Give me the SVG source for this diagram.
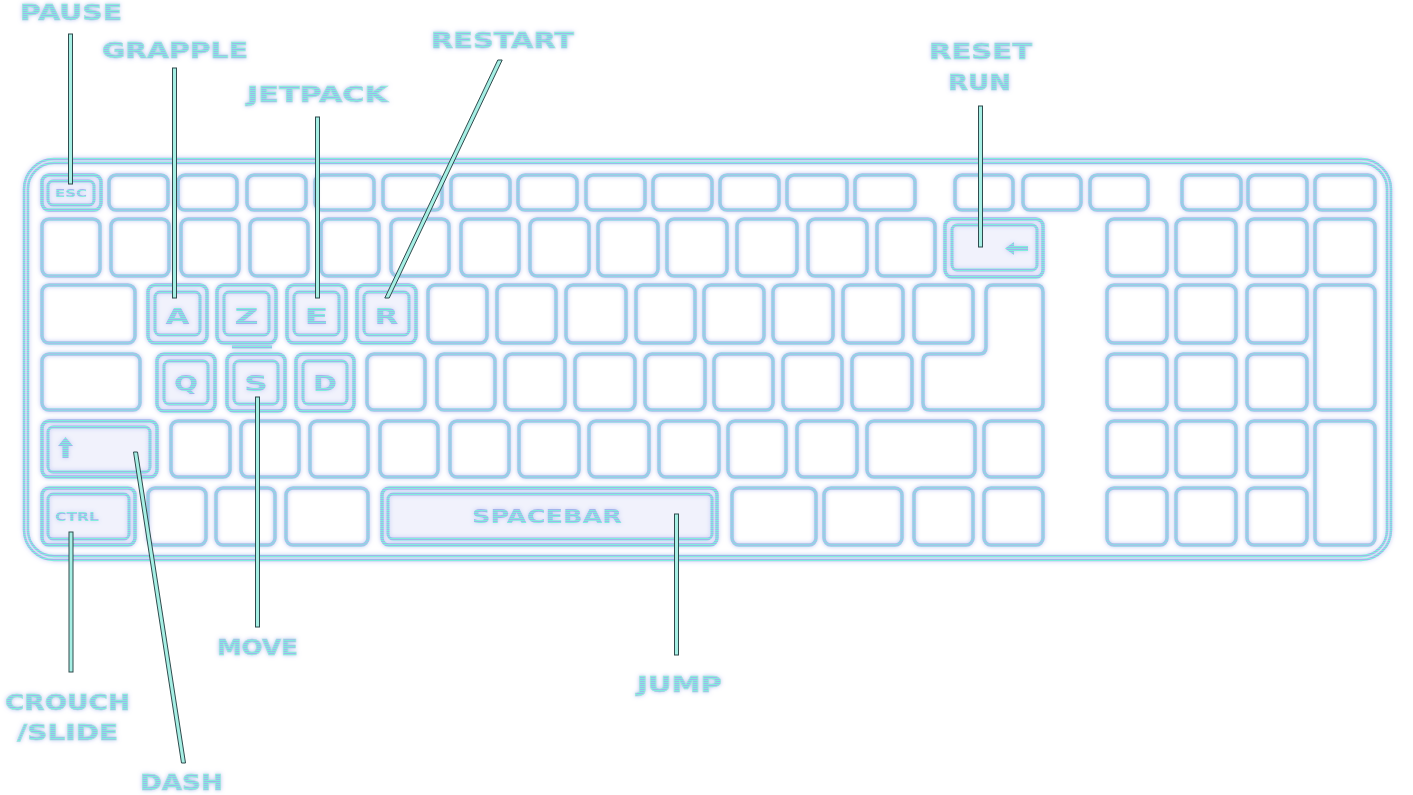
<svg xmlns="http://www.w3.org/2000/svg" width="1413" height="795" viewBox="0 0 1413 795">
<defs>
<pattern id="scanK" width="4" height="2" patternUnits="userSpaceOnUse"><rect width="4" height="1" fill="#8fd6e4"/><rect y="1" width="4" height="1" fill="#a9bfe9"/></pattern>
<pattern id="scanA" width="4" height="2" patternUnits="userSpaceOnUse"><rect width="4" height="1" fill="#80eedc"/><rect y="1" width="4" height="1" fill="#a3b3ec"/></pattern>
<filter id="glow" filterUnits="userSpaceOnUse" x="0" y="0" width="1413" height="795">
<feGaussianBlur in="SourceAlpha" stdDeviation="2.2" result="b"/>
<feFlood flood-color="#a9b2ee" flood-opacity="0.75"/>
<feComposite in2="b" operator="in" result="g"/>
<feGaussianBlur in="SourceGraphic" stdDeviation="0.6" result="s"/>
<feMerge><feMergeNode in="g"/><feMergeNode in="s"/></feMerge>
</filter>
</defs>
<style>
.k{fill:none;stroke:url(#scanK);stroke-width:3.5}
.a{fill:#dfe3fa;fill-opacity:.18;stroke:url(#scanA);stroke-width:3.5}
.ai{fill:none;stroke:url(#scanA);stroke-width:3}
.body{fill:none;stroke:url(#scanA);stroke-width:2.5}
.lbl{font-family:"DejaVu Sans","Liberation Sans",sans-serif;font-weight:bold;font-size:22px;fill:url(#scanA);stroke:#9fe6dc;stroke-width:0.6}
.kl{font-family:"DejaVu Sans","Liberation Sans",sans-serif;font-weight:bold;font-size:22px;fill:url(#scanA);text-anchor:middle}
.sm{font-family:"DejaVu Sans","Liberation Sans",sans-serif;font-weight:bold;fill:url(#scanA)}
.ic{fill:url(#scanA)}
.conn{fill:#a6efe4;stroke:#2f4b4d;stroke-width:1}
</style>
<rect width="1413" height="795" fill="#ffffff"/>
<g filter="url(#glow)">
<g id="keyboard-body">
<rect class="body" x="24" y="159" width="1367" height="401" rx="30"/>
<rect class="body" x="28" y="163" width="1359" height="393" rx="26" stroke-width="1.5"/>
</g>
<g id="row0">
<g id="k-esc"><rect class="a" x="42" y="175" width="59" height="35" rx="7"/><rect class="ai" x="48" y="181" width="46" height="24" rx="5"/><text class="sm" x="55" y="197" font-size="11" textLength="32" lengthAdjust="spacingAndGlyphs">ESC</text></g>
<g id="k-f1"><rect class="k" x="109" y="175" width="59" height="35" rx="7"/></g>
<g id="k-f2"><rect class="k" x="178" y="175" width="59" height="35" rx="7"/></g>
<g id="k-f3"><rect class="k" x="247" y="175" width="59" height="35" rx="7"/></g>
<g id="k-f4"><rect class="k" x="315" y="175" width="59" height="35" rx="7"/></g>
<g id="k-f5"><rect class="k" x="383" y="175" width="59" height="35" rx="7"/></g>
<g id="k-f6"><rect class="k" x="451" y="175" width="59" height="35" rx="7"/></g>
<g id="k-f7"><rect class="k" x="518" y="175" width="59" height="35" rx="7"/></g>
<g id="k-f8"><rect class="k" x="586" y="175" width="59" height="35" rx="7"/></g>
<g id="k-f9"><rect class="k" x="653" y="175" width="59" height="35" rx="7"/></g>
<g id="k-f10"><rect class="k" x="720" y="175" width="59" height="35" rx="7"/></g>
<g id="k-f11"><rect class="k" x="787" y="175" width="60" height="35" rx="7"/></g>
<g id="k-f12"><rect class="k" x="855" y="175" width="60" height="35" rx="7"/></g>
<g id="k-prt"><rect class="k" x="955" y="175" width="58" height="35" rx="7"/></g>
<g id="k-scr"><rect class="k" x="1023" y="175" width="58" height="35" rx="7"/></g>
<g id="k-pau"><rect class="k" x="1090" y="175" width="58" height="35" rx="7"/></g>
<g id="k-t1"><rect class="k" x="1182" y="175" width="59" height="35" rx="7"/></g>
<g id="k-t2"><rect class="k" x="1248" y="175" width="59" height="35" rx="7"/></g>
<g id="k-t3"><rect class="k" x="1315" y="175" width="60" height="35" rx="7"/></g>
</g>
<g id="row1">
<g id="k-1-0"><rect class="k" x="42" y="219" width="58" height="57" rx="7"/></g>
<g id="k-1-1"><rect class="k" x="111" y="219" width="58" height="57" rx="7"/></g>
<g id="k-1-2"><rect class="k" x="181" y="219" width="58" height="57" rx="7"/></g>
<g id="k-1-3"><rect class="k" x="250" y="219" width="58" height="57" rx="7"/></g>
<g id="k-1-4"><rect class="k" x="321" y="219" width="58" height="57" rx="7"/></g>
<g id="k-1-5"><rect class="k" x="391" y="219" width="58" height="57" rx="7"/></g>
<g id="k-1-6"><rect class="k" x="461" y="219" width="58" height="57" rx="7"/></g>
<g id="k-1-7"><rect class="k" x="530" y="219" width="59" height="57" rx="7"/></g>
<g id="k-1-8"><rect class="k" x="598" y="219" width="60" height="57" rx="7"/></g>
<g id="k-1-9"><rect class="k" x="667" y="219" width="60" height="57" rx="7"/></g>
<g id="k-1-10"><rect class="k" x="737" y="219" width="60" height="57" rx="7"/></g>
<g id="k-1-11"><rect class="k" x="808" y="219" width="59" height="57" rx="7"/></g>
<g id="k-1-12"><rect class="k" x="877" y="219" width="58" height="57" rx="7"/></g>
<g id="k-backspace"><rect class="a" x="945" y="219" width="98" height="58" rx="7"/><rect class="ai" x="952" y="225" width="85" height="45" rx="5"/><path class="ic" d="M1005,248.5 L1014,242 L1014,246 L1028,246 L1028,251 L1014,251 L1014,255 Z"/></g>
<g id="k-n1-0"><rect class="k" x="1107" y="219" width="60" height="57" rx="7"/></g>
<g id="k-n1-1"><rect class="k" x="1176" y="219" width="60" height="57" rx="7"/></g>
<g id="k-n1-2"><rect class="k" x="1247" y="219" width="60" height="57" rx="7"/></g>
<g id="k-n1-3"><rect class="k" x="1315" y="219" width="60" height="57" rx="7"/></g>
</g>
<g id="row2">
<g id="k-tab"><rect class="k" x="42" y="285" width="93" height="58" rx="7"/></g>
<g id="k-a"><rect class="a" x="148" y="285" width="59" height="58" rx="7"/><rect class="ai" x="155" y="292" width="45" height="43" rx="5"/><text class="kl" x="177.5" y="324" textLength="24" lengthAdjust="spacingAndGlyphs">A</text></g>
<g id="k-z"><rect class="a" x="217" y="285" width="59" height="58" rx="7"/><rect class="ai" x="224" y="292" width="45" height="43" rx="5"/><text class="kl" x="246.5" y="324" textLength="24" lengthAdjust="spacingAndGlyphs">Z</text></g>
<g id="k-e"><rect class="a" x="287" y="285" width="59" height="58" rx="7"/><rect class="ai" x="294" y="292" width="45" height="43" rx="5"/><text class="kl" x="316.5" y="324" textLength="24" lengthAdjust="spacingAndGlyphs">E</text></g>
<g id="k-r"><rect class="a" x="357" y="285" width="59" height="58" rx="7"/><rect class="ai" x="364" y="292" width="45" height="43" rx="5"/><text class="kl" x="386.5" y="324" textLength="24" lengthAdjust="spacingAndGlyphs">R</text></g>
<g id="k-2-5"><rect class="k" x="428" y="285" width="59" height="58" rx="7"/></g>
<g id="k-2-6"><rect class="k" x="497" y="285" width="59" height="58" rx="7"/></g>
<g id="k-2-7"><rect class="k" x="566" y="285" width="60" height="58" rx="7"/></g>
<g id="k-2-8"><rect class="k" x="636" y="285" width="59" height="58" rx="7"/></g>
<g id="k-2-9"><rect class="k" x="704" y="285" width="60" height="58" rx="7"/></g>
<g id="k-2-10"><rect class="k" x="773" y="285" width="60" height="58" rx="7"/></g>
<g id="k-2-11"><rect class="k" x="843" y="285" width="60" height="58" rx="7"/></g>
<g id="k-2-12"><rect class="k" x="914" y="285" width="59" height="58" rx="7"/></g>
<g id="k-enter"><path class="k" d="M993,285 H1036 Q1043,285 1043,292 V403 Q1043,410 1036,410 H930 Q923,410 923,403 V361 Q923,354 930,354 H979 Q986,354 986,347 V292 Q986,285 993,285 Z"/></g>
<g id="k-n2-0"><rect class="k" x="1107" y="285" width="60" height="58" rx="7"/></g>
<g id="k-n2-1"><rect class="k" x="1176" y="285" width="60" height="58" rx="7"/></g>
<g id="k-n2-2"><rect class="k" x="1247" y="285" width="60" height="58" rx="7"/></g>
<g id="k-nplus"><rect class="k" x="1315" y="285" width="60" height="125" rx="7"/></g>
</g>
<g id="row3">
<g id="k-caps"><rect class="k" x="42" y="354" width="98" height="56" rx="7"/></g>
<g id="k-q"><rect class="a" x="157" y="354" width="58" height="57" rx="7"/><rect class="ai" x="164" y="361" width="44" height="43" rx="5"/><text class="kl" x="186" y="391" textLength="24" lengthAdjust="spacingAndGlyphs">Q</text></g>
<g id="k-s"><rect class="a" x="227" y="354" width="58" height="57" rx="7"/><rect class="ai" x="234" y="361" width="44" height="43" rx="5"/><line class="ai" x1="232" y1="347" x2="272" y2="347"/><text class="kl" x="256" y="391" textLength="24" lengthAdjust="spacingAndGlyphs">S</text></g>
<g id="k-d"><rect class="a" x="296" y="354" width="58" height="57" rx="7"/><rect class="ai" x="303" y="361" width="44" height="43" rx="5"/><text class="kl" x="325" y="391" textLength="24" lengthAdjust="spacingAndGlyphs">D</text></g>
<g id="k-3-4"><rect class="k" x="367" y="354" width="58" height="56" rx="7"/></g>
<g id="k-3-5"><rect class="k" x="437" y="354" width="58" height="56" rx="7"/></g>
<g id="k-3-6"><rect class="k" x="505" y="354" width="60" height="56" rx="7"/></g>
<g id="k-3-7"><rect class="k" x="575" y="354" width="60" height="56" rx="7"/></g>
<g id="k-3-8"><rect class="k" x="645" y="354" width="60" height="56" rx="7"/></g>
<g id="k-3-9"><rect class="k" x="714" y="354" width="59" height="56" rx="7"/></g>
<g id="k-3-10"><rect class="k" x="783" y="354" width="59" height="56" rx="7"/></g>
<g id="k-3-11"><rect class="k" x="852" y="354" width="60" height="56" rx="7"/></g>
<g id="k-n3-0"><rect class="k" x="1107" y="354" width="60" height="56" rx="7"/></g>
<g id="k-n3-1"><rect class="k" x="1176" y="354" width="60" height="56" rx="7"/></g>
<g id="k-n3-2"><rect class="k" x="1247" y="354" width="60" height="56" rx="7"/></g>
</g>
<g id="row4">
<g id="k-shift"><rect class="a" x="42" y="421" width="115" height="56" rx="7"/><rect class="ai" x="48" y="427" width="102" height="45" rx="5"/><path class="ic" d="M65.5,437 L73,446 L68.5,446 L68.5,458 L62.5,458 L62.5,446 L58,446 Z"/></g>
<g id="k-4-1"><rect class="k" x="171" y="421" width="59" height="56" rx="7"/></g>
<g id="k-4-2"><rect class="k" x="241" y="421" width="58" height="56" rx="7"/></g>
<g id="k-4-3"><rect class="k" x="310" y="421" width="58" height="56" rx="7"/></g>
<g id="k-4-4"><rect class="k" x="380" y="421" width="58" height="56" rx="7"/></g>
<g id="k-4-5"><rect class="k" x="450" y="421" width="59" height="56" rx="7"/></g>
<g id="k-4-6"><rect class="k" x="519" y="421" width="60" height="56" rx="7"/></g>
<g id="k-4-7"><rect class="k" x="589" y="421" width="60" height="56" rx="7"/></g>
<g id="k-4-8"><rect class="k" x="659" y="421" width="60" height="56" rx="7"/></g>
<g id="k-4-9"><rect class="k" x="728" y="421" width="58" height="56" rx="7"/></g>
<g id="k-4-10"><rect class="k" x="797" y="421" width="60" height="56" rx="7"/></g>
<g id="k-rshift"><rect class="k" x="867" y="421" width="108" height="56" rx="7"/></g>
<g id="k-up"><rect class="k" x="984" y="421" width="59" height="56" rx="7"/></g>
<g id="k-n4-0"><rect class="k" x="1107" y="421" width="60" height="56" rx="7"/></g>
<g id="k-n4-1"><rect class="k" x="1176" y="421" width="60" height="56" rx="7"/></g>
<g id="k-n4-2"><rect class="k" x="1247" y="421" width="60" height="56" rx="7"/></g>
<g id="k-nenter"><rect class="k" x="1315" y="421" width="60" height="124" rx="7"/></g>
</g>
<g id="row5">
<g id="k-ctrl"><rect class="a" x="42" y="488" width="93" height="57" rx="7"/><rect class="ai" x="48" y="494" width="81" height="45" rx="5"/><text class="sm" x="55" y="521" font-size="12" textLength="44" lengthAdjust="spacingAndGlyphs">CTRL</text></g>
<g id="k-5-1"><rect class="k" x="148" y="488" width="58" height="57" rx="7"/></g>
<g id="k-5-2"><rect class="k" x="216" y="488" width="59" height="57" rx="7"/></g>
<g id="k-5-3"><rect class="k" x="286" y="488" width="82" height="57" rx="7"/></g>
<g id="k-space"><rect class="a" x="382" y="488" width="335" height="57" rx="7"/><rect class="ai" x="388" y="494" width="324" height="45" rx="5"/><text class="sm" x="472" y="523" font-size="19" textLength="150" lengthAdjust="spacingAndGlyphs">SPACEBAR</text></g>
<g id="k-5-5"><rect class="k" x="732" y="488" width="84" height="57" rx="7"/></g>
<g id="k-5-6"><rect class="k" x="824" y="488" width="78" height="57" rx="7"/></g>
<g id="k-5-7"><rect class="k" x="914" y="488" width="59" height="57" rx="7"/></g>
<g id="k-5-8"><rect class="k" x="984" y="488" width="59" height="57" rx="7"/></g>
<g id="k-n5-0"><rect class="k" x="1107" y="488" width="60" height="57" rx="7"/></g>
<g id="k-n5-1"><rect class="k" x="1176" y="488" width="60" height="57" rx="7"/></g>
<g id="k-n5-2"><rect class="k" x="1247" y="488" width="60" height="57" rx="7"/></g>
</g>
<g id="labels">
<g id="lbl-pause"><text class="lbl" x="20" y="20" textLength="102" lengthAdjust="spacingAndGlyphs">PAUSE</text></g>
<g id="lbl-grapple"><text class="lbl" x="102" y="58" textLength="146" lengthAdjust="spacingAndGlyphs">GRAPPLE</text></g>
<g id="lbl-jetpack"><text class="lbl" x="247" y="102" textLength="141" lengthAdjust="spacingAndGlyphs">JETPACK</text></g>
<g id="lbl-restart"><text class="lbl" x="431" y="48" textLength="143" lengthAdjust="spacingAndGlyphs">RESTART</text></g>
<g id="lbl-resetrun"><text class="lbl" x="929" y="59" textLength="103" lengthAdjust="spacingAndGlyphs">RESET</text><text class="lbl" x="948" y="90" textLength="63" lengthAdjust="spacingAndGlyphs">RUN</text></g>
<g id="lbl-move"><text class="lbl" x="217" y="655" textLength="81" lengthAdjust="spacingAndGlyphs">MOVE</text></g>
<g id="lbl-jump"><text class="lbl" x="637" y="692" textLength="85" lengthAdjust="spacingAndGlyphs">JUMP</text></g>
<g id="lbl-crouch"><text class="lbl" x="5" y="710" textLength="125" lengthAdjust="spacingAndGlyphs">CROUCH</text><text class="lbl" x="17" y="740" textLength="101" lengthAdjust="spacingAndGlyphs">/SLIDE</text></g>
<g id="lbl-dash"><text class="lbl" x="140" y="790" textLength="83" lengthAdjust="spacingAndGlyphs">DASH</text></g>
</g>
</g>
<g id="connectors">
<rect class="conn" x="68.5" y="34" width="4" height="150"/>
<rect class="conn" x="172.5" y="68" width="4" height="230"/>
<rect class="conn" x="315.5" y="117" width="4" height="181"/>
<polygon class="conn" points="497.8,60 502.2,60 389.2,298 384.8,298"/>
<rect class="conn" x="978.5" y="106" width="4" height="141"/>
<rect class="conn" x="674.5" y="514" width="4" height="141"/>
<rect class="conn" x="255.5" y="397" width="4" height="230"/>
<rect class="conn" x="69" y="532" width="4" height="140"/>
<polygon class="conn" points="133.5,452 137.5,452 185.5,763 181.5,763"/>
</g>
</svg>
